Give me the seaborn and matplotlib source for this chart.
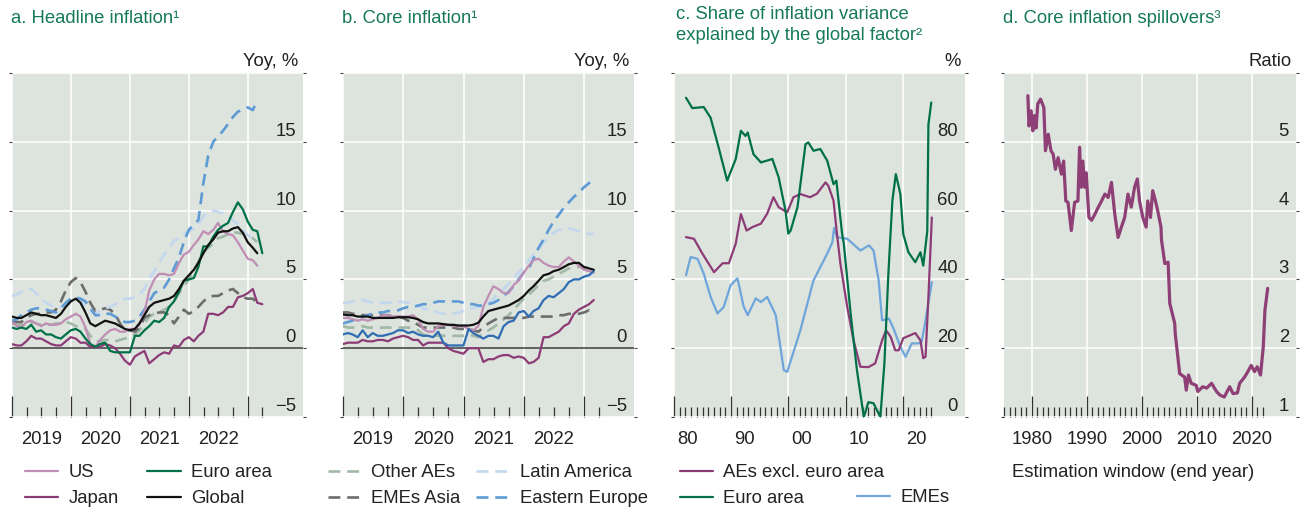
import numpy as np
import pandas as pd
import matplotlib
matplotlib.use("Agg")
import matplotlib.pyplot as plt
import matplotlib.transforms as mtransforms
from matplotlib.lines import Line2D
import seaborn as sns

nan = np.nan

# ---------------------------------------------------------------------------
# Data
# ---------------------------------------------------------------------------
# Monthly observations (month-end), Dec 2018 - Mar 2023
months = pd.date_range("2018-12-31", periods=52, freq=pd.offsets.MonthEnd())

# a. Headline inflation, yoy %
head_us = [1.9, 1.6, 1.5, 1.9, 2.0, 1.8, 1.6, 1.8, 1.7, 1.7, 1.8, 2.1, 2.3,
           2.5, 2.3, 1.5, 0.3, 0.1, 0.6, 1.0, 1.3, 1.4, 1.2, 1.2, 1.4,
           1.4, 1.7, 2.6, 4.2, 5.0, 5.4, 5.4, 5.3, 5.4, 6.2, 6.8, 7.0,
           7.5, 7.9, 8.5, 8.3, 8.6, 9.1, 8.5, 8.3, 8.2, 7.7, 7.1, 6.5,
           6.4, 6.0, nan]
head_japan = [0.3, 0.2, 0.2, 0.5, 0.9, 0.7, 0.7, 0.5, 0.3, 0.2, 0.2, 0.5, 0.8,
              0.7, 0.4, 0.4, 0.1, 0.1, 0.1, 0.3, 0.2, 0.0, -0.4, -0.9, -1.2,
              -0.6, -0.4, -0.2, -1.1, -0.8, -0.5, -0.3, -0.4, 0.2, 0.1, 0.6, 0.8,
              0.5, 0.9, 1.2, 2.5, 2.5, 2.4, 2.6, 3.0, 3.0, 3.7, 3.8, 4.0,
              4.3, 3.3, 3.2]
head_euro = [1.5, 1.4, 1.5, 1.4, 1.7, 1.2, 1.3, 1.0, 1.0, 0.8, 0.7, 1.0, 1.3,
             1.4, 1.2, 0.7, 0.3, 0.1, 0.3, 0.4, -0.2, -0.3, -0.3, -0.3, -0.3,
             0.9, 0.9, 1.3, 1.6, 2.0, 1.9, 2.2, 3.0, 3.4, 4.1, 4.9, 5.0,
             5.1, 5.9, 7.4, 7.4, 8.1, 8.6, 8.9, 9.1, 9.9, 10.6, 10.1, 9.2,
             8.6, 8.5, 6.9]
head_global = [2.3, 2.2, 2.2, 2.4, 2.6, 2.5, 2.4, 2.4, 2.3, 2.2, 2.5, 3.0, 3.4,
               3.6, 3.3, 2.6, 1.8, 1.6, 1.8, 2.0, 1.9, 1.8, 1.6, 1.4, 1.3,
               1.4, 1.8, 2.4, 3.0, 3.3, 3.4, 3.5, 3.6, 3.8, 4.3, 4.9, 5.3,
               5.7, 6.2, 6.9, 7.5, 7.9, 8.4, 8.5, 8.5, 8.7, 8.8, 8.4, 7.7,
               7.3, 6.9, nan]
head_other_aes = [1.8, 1.7, 1.7, 1.8, 1.9, 1.8, 1.7, 1.7, 1.7, 1.8, 1.8, 1.9, 1.8,
                  1.6, 1.5, 1.4, 0.9, 0.5, 0.5, 0.6, 0.6, 0.5, 0.6, 0.7, 0.8,
                  1.0, 1.3, 1.8, 2.3, 2.5, 2.6, 2.8, 3.0, 3.4, 4.0, 4.5, 5.0,
                  5.6, 6.3, 7.0, 7.3, 7.6, 8.0, 8.1, 8.3, 8.4, 8.4, 8.3, 8.2,
                  8.0, 7.7, nan]
head_emes_asia = [2.0, 1.9, 1.9, 2.2, 2.4, 2.5, 2.5, 2.6, 2.6, 2.8, 3.4, 4.2, 4.8,
                  5.1, 4.8, 4.1, 3.3, 2.7, 2.8, 2.9, 2.8, 2.5, 1.8, 1.3, 1.3,
                  1.2, 1.5, 2.2, 2.4, 2.5, 2.6, 2.6, 2.4, 1.8, 2.3, 2.8, 2.5,
                  2.7, 3.0, 3.4, 3.7, 3.8, 3.8, 4.0, 4.2, 4.3, 4.0, 3.7, 3.6,
                  3.6, 3.3, nan]
head_latam = [3.8, 3.9, 4.1, 4.3, 4.3, 4.0, 3.6, 3.3, 3.1, 2.9, 3.0, 3.2, 3.5,
              3.6, 3.4, 3.1, 2.7, 2.5, 2.7, 2.9, 3.0, 3.2, 3.4, 3.6, 3.6,
              3.7, 3.9, 4.3, 5.0, 5.6, 6.2, 6.8, 7.3, 7.8, 8.0, 8.3, 8.5,
              8.7, 9.0, 9.6, 9.9, 10.0, 9.9, 9.8, 9.6, 9.3, 9.0, 8.6, 8.2,
              8.0, 7.7, nan]
head_east_eur = [2.0, 2.1, 2.4, 2.6, 2.8, 2.9, 2.9, 2.8, 2.7, 2.6, 2.9, 3.3, 3.6,
                 3.7, 3.6, 3.4, 2.9, 2.4, 2.4, 2.5, 2.5, 2.3, 2.1, 1.9, 1.9,
                 2.0, 2.3, 2.8, 3.4, 4.0, 4.2, 4.4, 5.0, 5.8, 6.6, 7.7, 8.6,
                 9.0, 9.3, 12.0, 14.0, 15.0, 15.4, 15.8, 16.3, 16.8, 17.2, 17.3, 17.5,
                 17.3, 18.0, nan]

# b. Core inflation, yoy %
core_us = [2.2, 2.2, 2.1, 2.0, 2.1, 2.0, 2.1, 2.2, 2.4, 2.4, 2.3, 2.3, 2.3,
           2.3, 2.4, 2.1, 1.4, 1.2, 1.2, 1.6, 1.7, 1.7, 1.6, 1.6, 1.6,
           1.4, 1.3, 1.6, 3.0, 3.8, 4.5, 4.3, 4.0, 4.0, 4.6, 4.9, 5.5,
           6.0, 6.4, 6.5, 6.2, 6.0, 5.9, 5.9, 6.3, 6.6, 6.3, 6.0, 5.7,
           5.6, 5.5, nan]
core_japan = [0.3, 0.4, 0.4, 0.4, 0.6, 0.5, 0.5, 0.6, 0.6, 0.5, 0.7, 0.8, 0.9,
              0.8, 0.6, 0.6, 0.2, 0.4, 0.4, 0.4, 0.4, 0.0, -0.2, -0.3, -0.4,
              0.0, 0.0, 0.0, -1.0, -0.8, -0.8, -0.6, -0.5, -0.5, -0.7, -0.6, -0.7,
              -1.1, -1.0, -0.7, 0.8, 0.8, 1.0, 1.2, 1.6, 1.8, 2.5, 2.8, 3.0,
              3.2, 3.5, nan]
core_euro = [1.0, 1.1, 1.0, 0.8, 1.3, 0.8, 1.1, 0.9, 0.9, 1.0, 1.1, 1.3, 1.3,
             1.1, 1.2, 1.0, 0.9, 0.9, 0.8, 1.2, 0.4, 0.2, 0.2, 0.2, 0.2,
             1.4, 1.1, 0.9, 0.7, 0.9, 0.9, 0.7, 1.6, 1.9, 2.0, 2.6, 2.7,
             2.3, 2.7, 2.9, 3.5, 3.8, 3.7, 4.0, 4.3, 4.8, 5.0, 5.0, 5.2,
             5.3, 5.6, nan]
core_global = [2.45, 2.4, 2.4, 2.3, 2.3, 2.3, 2.2, 2.2, 2.2, 2.2, 2.2, 2.25, 2.25,
               2.25, 2.2, 2.1, 1.9, 1.8, 1.8, 1.8, 1.75, 1.7, 1.7, 1.65, 1.65,
               1.65, 1.7, 1.85, 2.3, 2.7, 2.8, 2.9, 3.0, 3.1, 3.3, 3.5, 3.8,
               4.2, 4.5, 4.9, 5.3, 5.4, 5.6, 5.7, 5.9, 6.1, 6.2, 6.2, 5.9,
               5.8, 5.7, nan]
core_other_aes = [1.6, 1.5, 1.5, 1.5, 1.6, 1.5, 1.5, 1.5, 1.5, 1.5, 1.5, 1.5, 1.5,
                  1.5, 1.5, 1.3, 1.0, 0.9, 0.9, 0.9, 0.9, 0.9, 0.9, 0.9, 0.9,
                  1.0, 0.9, 0.8, 1.1, 1.3, 1.5, 1.8, 2.1, 2.4, 2.8, 3.2, 3.6,
                  3.9, 4.2, 4.6, 4.9, 5.0, 5.2, 5.4, 5.6, 5.8, 5.9, 5.9, 5.9,
                  5.8, 5.7, nan]
core_emes_asia = [2.6, 2.6, 2.5, 2.5, 2.4, 2.4, 2.4, 2.4, 2.4, 2.4, 2.3, 2.3, 2.2,
                  2.0, 1.9, 1.7, 1.5, 1.5, 1.5, 1.5, 1.5, 1.5, 1.5, 1.4, 1.4,
                  1.4, 1.3, 1.2, 1.5, 1.8, 2.0, 2.2, 2.2, 2.2, 2.2, 2.2, 2.2,
                  2.3, 2.3, 2.3, 2.3, 2.3, 2.3, 2.4, 2.4, 2.5, 2.5, 2.5, 2.6,
                  2.75, 2.4, nan]
core_latam = [3.3, 3.3, 3.4, 3.5, 3.5, 3.4, 3.3, 3.3, 3.3, 3.3, 3.3, 3.4, 3.35,
              3.3, 3.2, 3.1, 2.9, 2.8, 2.7, 2.6, 2.5, 2.5, 2.5, 2.6, 2.7,
              2.9, 2.9, 3.0, 3.1, 3.3, 3.6, 4.0, 4.3, 4.7, 5.1, 5.5, 5.9,
              6.4, 6.8, 7.2, 7.7, 8.1, 8.4, 8.6, 8.7, 8.7, 8.6, 8.5, 8.4,
              8.3, 8.3, nan]
core_east_eur = [1.8, 1.9, 2.0, 2.2, 2.3, 2.4, 2.5, 2.6, 2.6, 2.7, 2.7, 2.75, 2.9,
                 3.0, 3.0, 3.1, 3.2, 3.2, 3.3, 3.4, 3.4, 3.4, 3.4, 3.4, 3.3,
                 3.2, 3.2, 3.1, 3.1, 3.2, 3.3, 3.5, 3.8, 4.1, 4.5, 5.0, 5.5,
                 5.8, 6.5, 7.3, 7.9, 8.6, 9.2, 9.7, 10.2, 10.6, 11.0, 11.3, 11.7,
                 12.0, 12.4, nan]

# c. Share of inflation variance explained by the global factor, %
share_ae_year = [1979.7, 1981.1, 1982.6, 1984.6, 1986.1, 1987.2, 1988.4, 1989.3,
                 1990.3, 1991.3, 1992.8, 1993.9, 1995.0, 1995.9, 1997.4, 1998.5,
                 1999.7, 2001.4, 2002.6, 2004.1, 2004.6, 2005.5, 2006.1, 2006.7,
                 2007.9, 2009.0, 2010.2, 2011.6, 2012.8, 2014.0, 2014.7, 2015.5,
                 2016.3, 2016.9, 2017.7, 2019.8, 2020.7, 2021.2, 2021.6, 2022.1,
                 2022.7]
share_ae = [52.3, 51.8, 47.4, 42.1, 44.7, 44.7, 50.4, 59.0,
            54.2, 55.2, 56.2, 59.1, 63.9, 61.0, 59.5, 63.9,
            64.8, 63.9, 64.9, 68.2, 67.2, 62.9, 53.3, 44.6,
            32.0, 22.3, 14.6, 14.5, 15.6, 22.3, 25.2, 23.3,
            19.4, 19.4, 22.9, 24.4, 22.3, 17.1, 17.5, 34.9,
            58.0]
share_euro_year = [1979.7, 1980.8, 1982.8, 1984.0, 1985.4, 1986.9, 1988.4, 1989.3,
                   1990.1, 1990.5, 1991.5, 1992.8, 1994.8, 1995.9, 1997.1, 1997.6,
                   1998.0, 1999.2, 2000.6, 2001.1, 2002.0, 2003.2, 2004.4, 2005.5,
                   2006.0, 2007.0, 2007.3, 2008.5, 2009.6, 2010.8, 2011.6, 2012.5,
                   2013.7, 2014.4, 2015.1, 2015.5, 2015.8, 2016.4, 2017.2, 2017.7,
                   2018.6, 2019.8, 2020.7, 2021.2, 2021.9, 2022.1, 2022.6]
share_euro = [92.8, 89.8, 90.1, 87.0, 78.4, 68.7, 75.0, 83.2,
              81.7, 82.7, 76.4, 74.0, 75.0, 69.7, 60.0, 53.3,
              54.2, 61.0, 79.3, 79.8, 77.4, 77.9, 74.5, 67.7,
              68.7, 53.3, 50.4, 30.0, 13.6, 0.0, 4.3, 4.0,
              0.0, 15.6, 41.7, 54.0, 62.9, 70.6, 64.8, 53.2,
              47.9, 45.0, 47.9, 44.0, 54.0, 85.0, 91.4]
share_emes_year = [1979.7, 1980.5, 1981.7, 1982.8, 1984.0, 1985.2, 1986.3, 1987.5,
                   1988.7, 1989.8, 1990.5, 1991.9, 1992.8, 1993.9, 1995.4, 1996.8,
                   1997.4, 1999.7, 2002.0, 2004.4, 2005.3, 2005.6, 2006.1, 2007.9,
                   2010.2, 2011.7, 2012.5, 2013.4, 2014.0, 2015.2, 2016.0, 2017.2,
                   2018.1, 2019.2, 2020.4, 2020.9, 2021.4, 2022.7]
share_emes = [41.2, 46.5, 46.0, 41.7, 34.9, 30.1, 32.0, 38.3,
              40.3, 32.0, 29.6, 34.5, 33.4, 34.9, 29.6, 13.6,
              13.1, 25.2, 39.7, 47.5, 50.8, 55.0, 52.3, 51.8,
              48.4, 49.9, 48.4, 39.7, 28.1, 28.6, 25.7, 20.4,
              17.5, 21.4, 21.4, 21.8, 26.2, 39.2]

# d. Core inflation spillovers, ratio, by estimation-window end year
spill_year = [1979.3, 1979.5, 1979.9, 1980.2, 1980.5, 1980.8, 1981.1, 1981.6,
              1982.2, 1982.5, 1983.0, 1983.5, 1983.9, 1984.3, 1984.8, 1985.4,
              1985.8, 1986.2, 1986.6, 1987.2, 1987.8, 1988.4, 1988.7, 1989.0,
              1989.3, 1989.6, 1989.9, 1990.4, 1990.9, 1991.5, 1992.1, 1992.7,
              1993.3, 1993.9, 1994.5, 1995.1, 1995.7, 1996.3, 1996.9, 1997.5,
              1998.1, 1998.7, 1999.2, 1999.6, 2000.2, 2000.8, 2001.1, 2001.6,
              2002.0, 2002.5, 2002.9, 2003.5, 2003.6, 2004.2, 2004.8, 2005.1,
              2006.0, 2006.1, 2006.9, 2007.8, 2008.1, 2008.5, 2009.0, 2009.9,
              2010.2, 2011.1, 2011.8, 2012.7, 2013.6, 2014.2, 2015.0, 2016.0,
              2016.6, 2017.4, 2017.8, 2018.7, 2019.3, 2019.9, 2020.5, 2021.0,
              2021.6, 2022.1, 2022.4, 2022.9]
spill_ratio = [5.67, 5.23, 5.45, 5.16, 5.38, 5.20, 5.55, 5.62,
               5.50, 4.87, 5.11, 4.87, 4.82, 4.60, 4.77, 4.53,
               4.72, 4.14, 4.12, 3.71, 4.12, 4.14, 4.92, 4.34,
               4.72, 4.34, 4.55, 3.90, 3.86, 3.95, 4.05, 4.14,
               4.24, 4.19, 4.41, 3.95, 3.61, 3.76, 3.90, 4.24,
               4.05, 4.34, 4.46, 4.14, 3.90, 3.76, 4.14, 3.90,
               4.29, 4.14, 4.00, 3.76, 3.57, 3.23, 3.25, 2.65,
               2.36, 2.21, 1.63, 1.58, 1.39, 1.61, 1.49, 1.46,
               1.37, 1.44, 1.42, 1.49, 1.37, 1.32, 1.29, 1.44,
               1.34, 1.35, 1.49, 1.58, 1.66, 1.75, 1.66, 1.73,
               1.61, 2.02, 2.55, 2.87]

# ---------------------------------------------------------------------------
# Style
# ---------------------------------------------------------------------------
sns.set_theme(style="white")
plt.rcParams["font.family"] = ["Liberation Sans", "DejaVu Sans"]
plt.rcParams["axes.unicode_minus"] = True

BG = "#dde3dd"
TITLE_C = "#16795a"
TXT = "#222222"
FS = 13.3

C_US = "#c08db4"
C_JP = "#8c3b76"
C_EA = "#00704a"
C_GL = "#111111"
C_OAE = "#a2b8a7"
C_EMA = "#6d6d6d"
C_LAT = "#c3d7ef"
C_EE = "#5e9bd5"
C_EA_CORE = "#2f6db3"
C_EMES = "#6ea6db"

SOLID = dict(linewidth=1.6)
DASH = dict(linewidth=1.9, linestyle=(0, (4.5, 2.6)))

W, H = 1305, 508
fig = plt.figure(figsize=(W / 100, H / 100), dpi=100)


def axes_at(left_px, width_px):
    return fig.add_axes([left_px / W, 1 - 417 / H, width_px / W, 344 / H])


ax_a = axes_at(12, 291)
ax_b = axes_at(343, 291)
ax_c = axes_at(674, 291)
ax_d = axes_at(1004, 292)


def style_panel(ax, xlim, ylim, yticks, ylabels, major, minor, unit):
    ax.set_facecolor(BG)
    for s in ax.spines.values():
        s.set_visible(False)
    ax.set_xlim(*xlim)
    ax.set_ylim(*ylim)
    ax.set_yticks(yticks)
    ax.set_yticklabels([])
    ax.set_xticks(major)
    ax.set_xticklabels([])
    ax.set_xticks(minor, minor=True)
    ax.grid(True, which="major", color="white", linewidth=1.1, zorder=0)
    ax.set_axisbelow(True)
    ax.tick_params(axis="y", which="major", left=True, right=True,
                   length=2, width=0.8, color="#444444", direction="out",
                   labelleft=False, labelright=False)
    ax.tick_params(axis="x", which="major", bottom=True, direction="in",
                   length=15, width=0.9, color="#333333", labelbottom=False)
    ax.tick_params(axis="x", which="minor", bottom=True, direction="in",
                   length=7, width=0.9, color="#333333")
    ax.set_xlabel("")
    ax.set_ylabel("")
    up = mtransforms.ScaledTranslation(0, 0.06, fig.dpi_scale_trans)
    for t, s in zip(yticks, ylabels):
        if s:
            ax.text(1 - 7 / 291, t, s, transform=ax.get_yaxis_transform() + up,
                    ha="right", va="baseline", fontsize=FS, color=TXT)
    ax.text(0.985, 1 + 7 / 344, unit, transform=ax.transAxes,
            ha="right", va="baseline", fontsize=FS, color=TXT)


def x_labels(ax, positions, labels):
    for p, s in zip(positions, labels):
        ax.text(p, -27 / 344, s, transform=ax.get_xaxis_transform(),
                ha="center", va="baseline", fontsize=FS, color=TXT)


def draw(ax, x, y, color, kw):
    sns.lineplot(x=x, y=y, ax=ax, color=color, estimator=None, sort=False,
                 legend=False, **kw)


# ---------------------------------------------------------------------------
# Panels a and b: monthly series
# ---------------------------------------------------------------------------
year_starts = [pd.Timestamp(f"{y}-01-01") for y in range(2019, 2024)]
quarters = [pd.Timestamp(f"{y}-{m:02d}-01") for y in range(2019, 2023)
            for m in (4, 7, 10)] + [pd.Timestamp("2023-04-01")]
mid_years = [pd.Timestamp(f"{y}-07-01") for y in range(2019, 2023)]
year_names = ["2019", "2020", "2021", "2022"]
infl_ticks = [-5, 0, 5, 10, 15, 20]
infl_labels = ["\u22125", "0", "5", "10", "15", ""]

panel_a = [
    (head_other_aes, C_OAE, DASH), (head_emes_asia, C_EMA, DASH),
    (head_latam, C_LAT, DASH), (head_east_eur, C_EE, DASH),
    (head_us, C_US, SOLID), (head_japan, C_JP, SOLID),
    (head_euro, C_EA, SOLID), (head_global, C_GL, SOLID),
]
panel_b = [
    (core_other_aes, C_OAE, DASH), (core_emes_asia, C_EMA, DASH),
    (core_latam, C_LAT, DASH), (core_east_eur, C_EE, DASH),
    (core_us, C_US, SOLID), (core_japan, C_JP, SOLID),
    (core_euro, C_EA_CORE, SOLID), (core_global, C_GL, SOLID),
]

for ax, series, xlim in (
        (ax_a, panel_a, (pd.Timestamp("2019-01-06"), pd.Timestamp("2023-12-08"))),
        (ax_b, panel_b, (pd.Timestamp("2019-01-05"), pd.Timestamp("2023-10-30")))):
    ax.axhline(0, color="#555555", linewidth=1.3, zorder=1)
    for vals, col, kw in series:
        draw(ax, months, vals, col, kw)
    style_panel(ax, xlim, (-5, 20), infl_ticks, infl_labels,
                year_starts, quarters, "Yoy, %")
    x_labels(ax, mid_years, year_names)

# ---------------------------------------------------------------------------
# Panel c
# ---------------------------------------------------------------------------
draw(ax_c, share_emes_year, share_emes, C_EMES, SOLID)
draw(ax_c, share_ae_year, share_ae, C_JP, SOLID)
draw(ax_c, share_euro_year, share_euro, C_EA, SOLID)
style_panel(ax_c, (1977.6, 2028.5), (0, 100), [0, 20, 40, 60, 80, 100],
            ["0", "20", "40", "60", "80", ""],
            [1977.6 + 10 * k for k in range(5)],
            [1977.6 + k for k in range(46)], "%")
x_labels(ax_c, [1980, 1990, 2000, 2010, 2020], ["80", "90", "00", "10", "20"])

# ---------------------------------------------------------------------------
# Panel d
# ---------------------------------------------------------------------------
draw(ax_d, spill_year, spill_ratio, "#8e3f76", dict(linewidth=2.3))
style_panel(ax_d, (1974.96, 2028.05), (1, 6), [1, 2, 3, 4, 5, 6],
            ["1", "2", "3", "4", "5", ""],
            [1980, 1990, 2000, 2010, 2020], list(range(1975, 2023)), "Ratio")
x_labels(ax_d, [1980, 1990, 2000, 2010, 2020],
         ["1980", "1990", "2000", "2010", "2020"])
ax_d.text(8 / 292, -60 / 344, "Estimation window (end year)",
          transform=ax_d.transAxes, ha="left", va="baseline",
          fontsize=FS, color=TXT)

# ---------------------------------------------------------------------------
# Titles
# ---------------------------------------------------------------------------
def title(x_px, y_px, s):
    fig.text(x_px / W, 1 - y_px / H, s, ha="left", va="baseline",
             fontsize=FS, color=TITLE_C)


title(11, 23, "a. Headline inflation\u00b9")
title(342, 23, "b. Core inflation\u00b9")
title(676, 19, "c. Share of inflation variance")
title(676, 40, "explained by the global factor\u00b2")
title(1003, 23, "d. Core inflation spillovers\u00b3")

# ---------------------------------------------------------------------------
# Legends
# ---------------------------------------------------------------------------
def handle(color, kw, label):
    return Line2D([], [], color=color, label=label, **kw)


LEG = dict(frameon=False, fontsize=FS, handlelength=1.8, handletextpad=0.55,
           labelspacing=0.51, borderpad=0, borderaxespad=0, loc="upper left",
           labelcolor=TXT)

ax_a.legend(handles=[handle(C_US, SOLID, "US"), handle(C_JP, SOLID, "Japan"),
                     handle(C_EA, SOLID, "Euro area"),
                     handle(C_GL, SOLID, "Global")],
            ncol=2, columnspacing=1.55,
            bbox_to_anchor=(13 / 291, -47 / 344), **LEG)
ax_b.legend(handles=[handle(C_OAE, DASH, "Other AEs"),
                     handle(C_EMA, DASH, "EMEs Asia"),
                     handle(C_LAT, DASH, "Latin America"),
                     handle(C_EE, DASH, "Eastern Europe")],
            ncol=2, columnspacing=0.85,
            bbox_to_anchor=(-15 / 291, -47 / 344), **LEG)
leg_c = ax_c.legend(handles=[handle(C_JP, SOLID, "AEs excl. euro area"),
                             handle(C_EA, SOLID, "Euro area")],
                    ncol=1, bbox_to_anchor=(6 / 291, -47 / 344), **LEG)
ax_c.add_artist(leg_c)
ax_c.legend(handles=[handle(C_EMES, SOLID, "EMEs")], ncol=1,
            bbox_to_anchor=(183 / 291, -72 / 344), **LEG)

fig.savefig("out.png", dpi=100, facecolor="white")
